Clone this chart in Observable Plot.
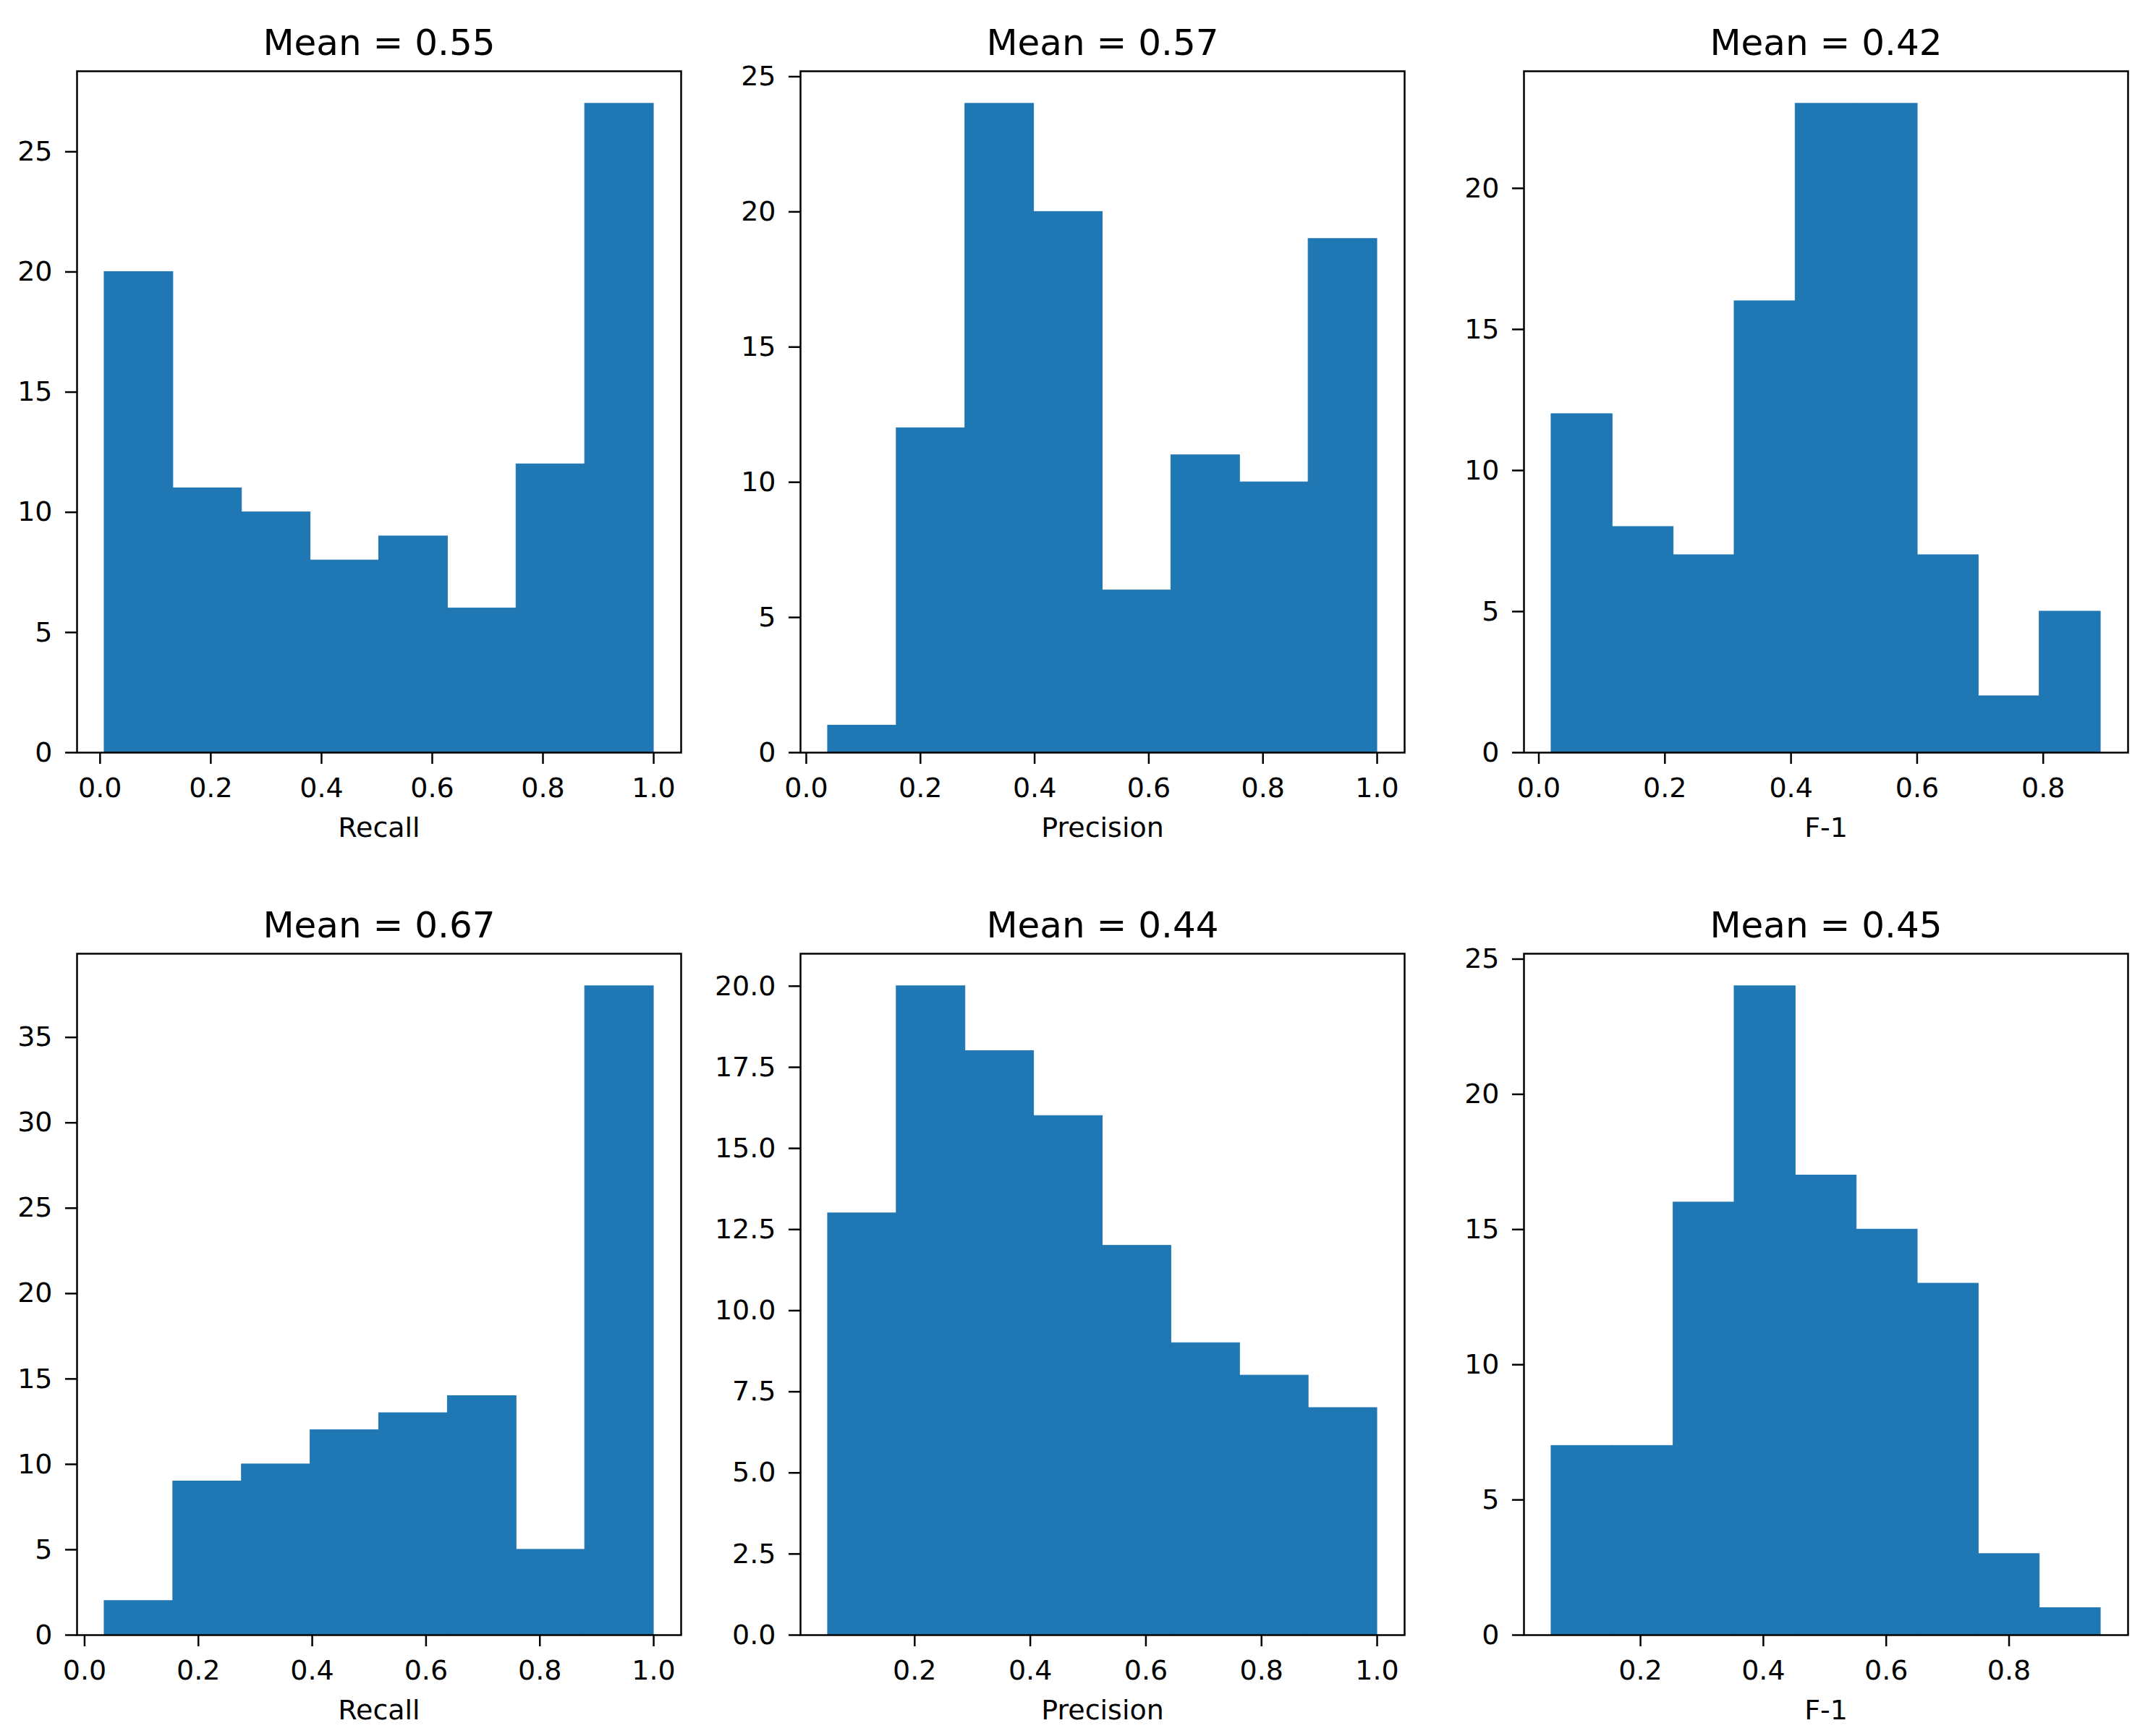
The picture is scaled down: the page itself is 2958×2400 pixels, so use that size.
<!DOCTYPE html>
<html>
<head>
<meta charset="utf-8">
<script src="https://cdn.jsdelivr.net/npm/d3@7"></script>
<script src="https://cdn.jsdelivr.net/npm/@observablehq/plot@0.6"></script>
<style>
  html, body { margin: 0; padding: 0; background: #ffffff; }
  #fig { position: relative; width: 2958px; height: 2400px; background: #ffffff; overflow: hidden; }
  #fig > svg { position: absolute; }
</style>
</head>
<body>
<div id="fig"></div>
<script>
// ---- data ----
const titles = ["Mean = 0.55", "Mean = 0.57", "Mean = 0.42", "Mean = 0.67", "Mean = 0.44", "Mean = 0.45"];
const xLabels = ["Recall", "Precision", "F-1", "Recall", "Precision", "F-1"];

// histogram counts per panel
const recallTop    = [20, 11, 10, 8, 9, 6, 12, 27];
const precisionTop = [1, 12, 24, 20, 6, 11, 10, 19];
const f1Top        = [12, 8, 7, 16, 23, 23, 7, 2, 5];
const recallBot    = [2, 9, 10, 12, 13, 14, 5, 38];
const precisionBot = [13, 20, 18, 16, 12, 9, 8, 7];
const f1Bot        = [7, 7, 16, 24, 17, 15, 13, 3, 1];

// data range (min, max) of each histogram
const rangeRecallTop    = [0.008, 1.0];
const rangePrecisionTop = [0.038, 1.0];
const rangeF1Top        = [0.020, 0.891];
const rangeRecallBot    = [0.035, 1.0];
const rangePrecisionBot = [0.050, 1.0];
const rangeF1Bot        = [0.055, 0.949];

// tick labels
const xTicksFull = [0.0, 0.2, 0.4, 0.6, 0.8, 1.0];
const xTicksF1Top = [0.0, 0.2, 0.4, 0.6, 0.8];
const xTicksPrecBot = [0.2, 0.4, 0.6, 0.8, 1.0];
const xTicksF1Bot = [0.2, 0.4, 0.6, 0.8];
const yTicks1 = [0, 5, 10, 15, 20, 25];
const yTicks2 = [0, 5, 10, 15, 20, 25];
const yTicks3 = [0, 5, 10, 15, 20];
const yTicks4 = [0, 5, 10, 15, 20, 25, 30, 35];
const yTicks5 = [0.0, 2.5, 5.0, 7.5, 10.0, 12.5, 15.0, 17.5, 20.0];
const yTicks6 = [0, 5, 10, 15, 20, 25];

const panels = [
  {counts: recallTop,    range: rangeRecallTop,    xt: xTicksFull,    yt: yTicks1, yf: "d"},
  {counts: precisionTop, range: rangePrecisionTop, xt: xTicksFull,    yt: yTicks2, yf: "d"},
  {counts: f1Top,        range: rangeF1Top,        xt: xTicksF1Top,   yt: yTicks3, yf: "d"},
  {counts: recallBot,    range: rangeRecallBot,    xt: xTicksFull,    yt: yTicks4, yf: "d"},
  {counts: precisionBot, range: rangePrecisionBot, xt: xTicksPrecBot, yt: yTicks5, yf: ".1f"},
  {counts: f1Bot,        range: rangeF1Bot,        xt: xTicksF1Bot,   yt: yTicks6, yf: "d"}
];

const fig = document.getElementById("fig");
const BLUE = "#1f77b4";

panels.forEach((p, i) => {
  const n = p.counts.length;
  const [lo, hi] = p.range;
  const w = (hi - lo) / n;
  const bins = p.counts.map((c, k) => ({x1: lo + k * w, x2: lo + (k + 1) * w, y: c}));
  const pad = 0.05 * (hi - lo);
  const ymax = d3.max(p.counts) * 1.05;
  const col = i % 3, row = Math.floor(i / 3);
  const extra = col === 0 ? 0 : 60;

  const chart = Plot.plot({
    width: 958 + extra,
    height: 1180,
    marginLeft: 106 + extra,
    marginRight: 17,
    marginTop: 98,
    marginBottom: 140,
    style: {fontFamily: "DejaVu Sans", fontSize: "38px", background: "transparent", color: "#000000"},
    x: {domain: [lo - pad, hi + pad], nice: false},
    y: {domain: [0, ymax], nice: false},
    marks: [
      Plot.rectY(bins, {x1: "x1", x2: "x2", y: "y", fill: BLUE, stroke: BLUE, strokeWidth: 1, inset: 0}),
      Plot.frame({stroke: "#000000", strokeWidth: 2.5}),
      Plot.axisX({ticks: p.xt, tickFormat: d3.format(".1f"), tickSize: 16, tickPadding: 19, strokeWidth: 2.5, label: null, fontSize: 38}),
      Plot.axisY({ticks: p.yt, tickFormat: d3.format(p.yf), tickSize: 16, tickPadding: 18, strokeWidth: 2.5, label: null, fontSize: 38}),
      Plot.text([titles[i]], {frameAnchor: "top", dy: -23, lineAnchor: "bottom", fontSize: 50, fill: "#000000"}),
      Plot.text([xLabels[i]], {frameAnchor: "bottom", dy: 104, lineAnchor: "middle", fontSize: 38, fill: "#000000"})
    ]
  });
  chart.style.left = (col * 1000 - extra) + "px";
  chart.style.top = (row * 1220) + "px";
  fig.appendChild(chart);
});
</script>
</body>
</html>
